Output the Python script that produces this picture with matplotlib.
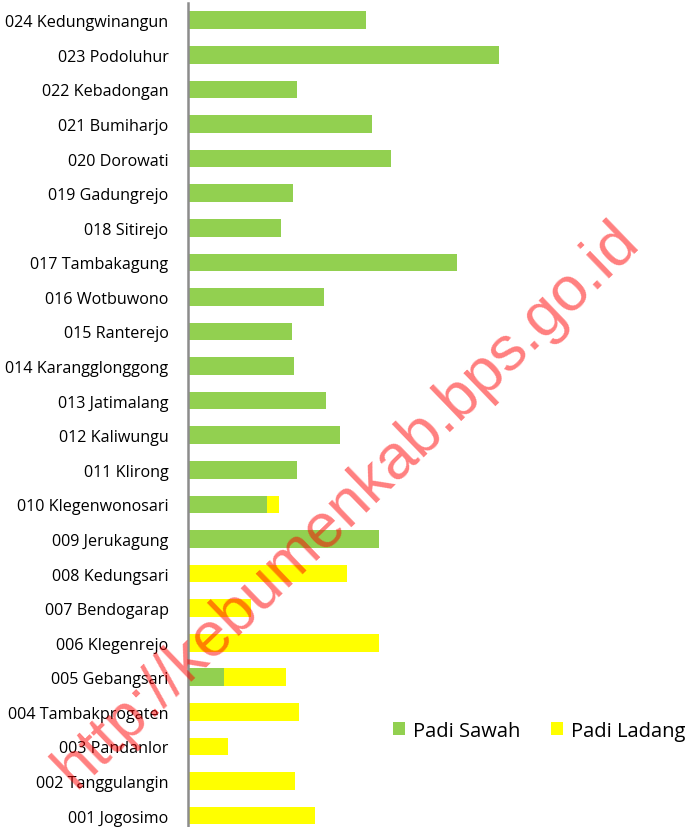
import numpy as np
import matplotlib.pyplot as plt

desa = ["001 Jogosimo", "002 Tanggulangin", "003 Pandanlor", "004 Tambakprogaten",
        "005 Gebangsari", "006 Klegenrejo", "007 Bendogarap", "008 Kedungsari",
        "009 Jerukagung", "010 Klegenwonosari", "011 Klirong", "012 Kaliwungu",
        "013 Jatimalang", "014 Karangglonggong", "015 Ranterejo", "016 Wotbuwono",
        "017 Tambakagung", "018 Sitirejo", "019 Gadungrejo", "020 Dorowati",
        "021 Bumiharjo", "022 Kebadongan", "023 Podoluhur", "024 Kedungwinangun"]
padi_sawah = [0, 0, 0, 0, 36, 0, 0, 0, 191, 79, 109, 152,
              138, 106, 104, 136, 269, 93, 105, 203, 184, 109, 311, 178]
padi_ladang = [127, 107, 40, 111, 62, 191, 63, 159, 0, 12, 0, 0,
               0, 0, 0, 0, 0, 0, 0, 0, 0, 0, 0, 0]

fig = plt.figure(figsize=(6.86, 8.28), dpi=100)
ax = fig.add_axes([188 / 686, 0, 498 / 686, 824 / 828])

y = np.arange(len(desa))
ax.barh(y, padi_sawah, height=0.51, color="#92D050", label="Padi Sawah")
ax.barh(y, padi_ladang, left=padi_sawah, height=0.51, color="#FFFF00", label="Padi Ladang")

ax.set_xlim(0, 498)
ax.set_ylim(-0.33, 23.5)
ax.set_yticks(y)
ax.set_yticklabels(desa, fontsize=11.6, family="Open Sans")
ax.tick_params(axis="y", length=0, pad=14)
ax.set_xticks([])
for s in ["top", "right", "bottom"]:
    ax.spines[s].set_visible(False)
ax.spines["left"].set_color("#8c8c8c")
ax.spines["left"].set_linewidth(1.8)

ax.legend(loc="center", bbox_to_anchor=(0.705, 0.117), ncol=2, frameon=False,
          prop={"family": "Open Sans", "size": 14.5}, handlelength=0.6,
          handleheight=0.6, handletextpad=0.4, columnspacing=1.5)

# watermark
fig.text(0.505, 0.39, "http://kebumenkab.bps.go.id", color="red", alpha=0.5,
         fontsize=45, family="Liberation Sans", rotation=44, ha="center", va="center")

fig.savefig("out.png", dpi=100)
